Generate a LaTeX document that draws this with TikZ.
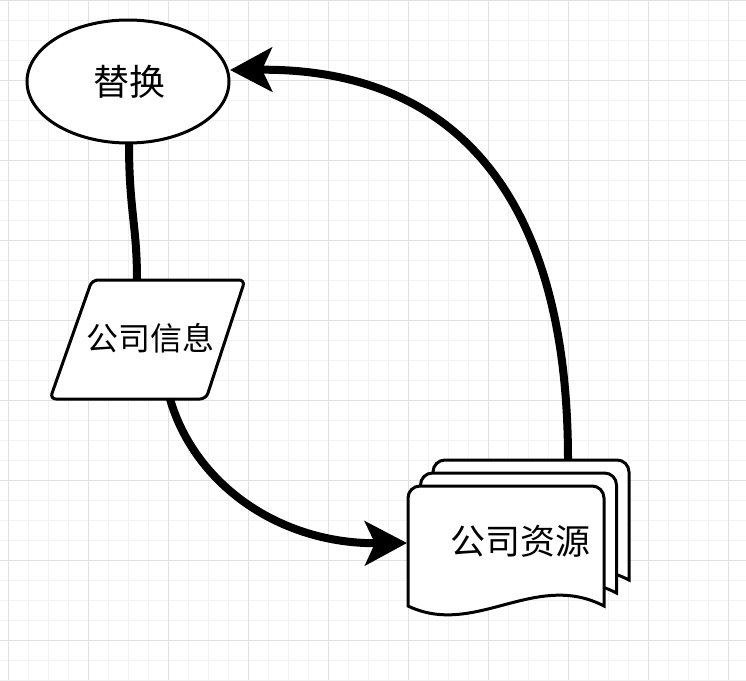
\documentclass[tikz,border=0pt]{standalone}
\usepackage{fontspec}
\newfontfamily\cjk{Noto Sans CJK SC}
\usetikzlibrary{arrows.meta,shapes.geometric}
\definecolor{gridminor}{RGB}{241,241,241}
\definecolor{gridmajor}{RGB}{224,224,224}
\newcommand\mydoc[2]{%
  \draw[shapeline] (#1+196,#2+120) .. controls (#1+127,#2+84) and (#1+67,#2+152) .. (#1,#2+120)
    -- (#1,#2+12) arc[start angle=180,end angle=270,radius=12]
    -- (#1+184,#2) arc[start angle=270,end angle=360,radius=12] -- cycle;}
\begin{document}
\begin{tikzpicture}[x=1pt,y=-1pt,
  shapeline/.style={line width=3pt,draw=black,fill=white},
  conn/.style={line width=8pt,draw=black},
  bigtip/.style={-{Stealth[length=42pt,width=44pt,inset=10pt]}},
  lbl/.style={inner sep=0pt}]
\useasboundingbox (0,0) rectangle (746,680);
\fill[white] (0,0) rectangle (746,680);
\foreach \x in {8,28,...,746} \draw[gridminor,line width=1pt] (\x,0) -- (\x,680);
\foreach \y in {0,20,...,680} \draw[gridminor,line width=1pt] (0,\y) -- (746,\y);
\foreach \x in {8,88,...,746} \draw[gridmajor,line width=1pt] (\x,0) -- (\x,680);
\foreach \y in {0,80,...,680} \draw[gridmajor,line width=1pt] (0,\y) -- (746,\y);
% ellipse
\node[ellipse,shapeline,minimum width=202pt,minimum height=123pt,inner sep=0pt] (repl) at (128,81.5) {};
\node[lbl,font=\cjk\fontsize{36}{40}\selectfont] (repltxt) at (129,82) {替换};
% parallelogram
\draw[shapeline,rounded corners=6pt] (168,280) -- (245,280) -- (206,399) -- (50,399) -- (92,280) -- cycle;
\node[lbl,font=\cjk\fontsize{32}{36}\selectfont] (info) at (150,338) {公司信息};
% document stack
\mydoc{433}{460}
\mydoc{420.5}{473}
\mydoc{408}{486}
\node[lbl,font=\cjk\fontsize{35}{38}\selectfont] (res) at (520,541) {公司资源};
% connectors
\coordinate (a1) at (129,143);
\coordinate (a2) at (137,280);
\coordinate (b1) at (170,399);
\coordinate (b2) at (407,543);
\coordinate (c1) at (568,460);
\coordinate (c2) at (230,70);
\draw[conn] (a1) .. controls (129,210) and (137,225) .. (a2);
\draw[conn,bigtip] (b1) .. controls (195,485) and (280,544) .. (b2);
\draw[conn,bigtip] (c1) .. controls (568,190) and (450,68) .. (c2);
\end{tikzpicture}
\end{document}
